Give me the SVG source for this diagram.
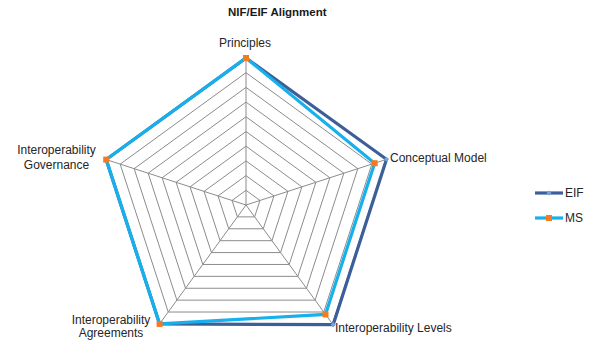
<svg xmlns="http://www.w3.org/2000/svg" width="590" height="340" viewBox="0 0 590 340">
<defs>
<style>
.grid{fill:none;stroke:#8c8c8c;stroke-width:1}
.eif{fill:none;stroke:#3d5f99;stroke-width:3.2;stroke-linejoin:miter}
.ms{fill:none;stroke:#16b0ec;stroke-width:3.2;stroke-linejoin:miter}
.lbl{font-family:"Liberation Sans",Arial,sans-serif;font-size:12px;fill:#262626}
.ttl{font-family:"Liberation Sans",Arial,sans-serif;font-size:11.5px;font-weight:bold;fill:#1a1a1a}
.mso{fill:#f47b20}
.eifm{fill:#6fa6dc}
</style>
<rect id="sq" x="-3" y="-3" width="6" height="6" class="mso"/>
<rect id="dm" x="-1.8" y="-1.8" width="3.6" height="3.6" class="eifm" transform="rotate(45)"/>
</defs>
<rect width="590" height="340" fill="#fff"/>
<text class="ttl" x="228" y="16">NIF/EIF Alignment</text>
<g id="grid">
<polygon class="grid" points="246,190.3 259.98,200.46 254.64,216.89 237.36,216.89 232.02,200.46"/>
<polygon class="grid" points="246,175.6 273.96,195.92 263.28,228.78 228.72,228.78 218.04,195.92"/>
<polygon class="grid" points="246,160.9 287.94,191.37 271.92,240.68 220.08,240.68 204.06,191.37"/>
<polygon class="grid" points="246,146.2 301.92,186.83 280.56,252.57 211.44,252.57 190.08,186.83"/>
<polygon class="grid" points="246,131.5 315.91,182.29 289.2,264.46 202.8,264.46 176.09,182.29"/>
<polygon class="grid" points="246,116.8 329.89,177.75 297.84,276.35 194.16,276.35 162.11,177.75"/>
<polygon class="grid" points="246,102.1 343.87,173.2 306.48,288.25 185.52,288.25 148.13,173.2"/>
<polygon class="grid" points="246,87.4 357.85,168.66 315.12,300.14 176.88,300.14 134.15,168.66"/>
<polygon class="grid" points="246,72.7 371.83,164.12 323.77,312.03 168.23,312.03 120.17,164.12"/>
<polygon class="grid" points="246,58 385.81,159.58 332.41,323.92 159.59,323.92 106.19,159.58"/>
<path class="grid" d="M246,205V58M246,205L385.81,159.58M246,205L332.41,323.92M246,205L159.59,323.92M246,205L106.19,159.58"/>
</g>
<g id="series-eif">
<polygon class="eif" points="246,58 386.5,159.3 333.2,324.6 159.59,323.92 106.19,159.58"/>
<use href="#dm" x="386.5" y="159.3"/>
<use href="#dm" x="333.2" y="324.6"/>
</g>
<g id="series-ms">
<polygon class="ms" points="246,58 374.63,163.21 325.49,314.41 159.59,323.92 106.19,159.58"/>
<use href="#sq" x="246" y="58"/>
<use href="#sq" x="374.63" y="163.21"/>
<use href="#sq" x="325.49" y="314.41"/>
<use href="#sq" x="159.59" y="323.92"/>
<use href="#sq" x="106.19" y="159.58"/>
</g>
<g id="labels">
<text class="lbl" x="245" y="47" text-anchor="middle">Principles</text>
<text class="lbl" x="390" y="162">Conceptual Model</text>
<text class="lbl" x="335" y="332">Interoperability Levels</text>
<text class="lbl" x="111" y="324" text-anchor="middle">Interoperability</text>
<text class="lbl" x="111" y="337" text-anchor="middle">Agreements</text>
<text class="lbl" x="56.5" y="154" text-anchor="middle">Interoperability</text>
<text class="lbl" x="56.5" y="169" text-anchor="middle">Governance</text>
</g>
<g id="legend">
<line x1="535" y1="193" x2="563" y2="193" class="eif"/>
<use href="#dm" x="549" y="193"/>
<text class="lbl" x="565" y="197">EIF</text>
<line x1="535" y1="218" x2="563" y2="218" class="ms"/>
<use href="#sq" x="549" y="218"/>
<text class="lbl" x="565" y="222">MS</text>
</g>
</svg>
